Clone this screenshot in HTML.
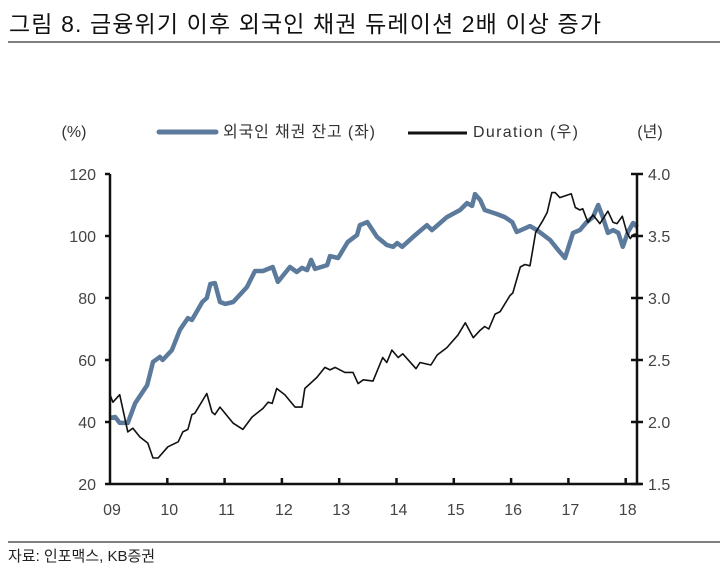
<!DOCTYPE html>
<html><head><meta charset="utf-8">
<style>
body{margin:0;background:#fff;width:720px;height:572px;overflow:hidden;font-family:"Liberation Sans","Noto Sans CJK KR",sans-serif;}
svg text{font-family:"Liberation Sans","Noto Sans CJK KR",sans-serif;}
</style></head>
<body>
<svg id="chart" width="720" height="572">
<text x="9" y="32" font-size="23" fill="#111" font-family="Noto Sans CJK KR, sans-serif" textLength="592">그림 8. 금융위기 이후 외국인 채권 듀레이션 2배 이상 증가</text>
<line x1="8" y1="42" x2="720" y2="42" stroke="#555" stroke-width="1.5"/>
<text x="74" y="137" font-size="16" fill="#333" text-anchor="middle">(%)</text>
<text x="650" y="137" font-size="16" fill="#333" text-anchor="middle">(년)</text>
<g>
<line x1="159" y1="132" x2="216" y2="132" stroke="#5b7a9c" stroke-width="5" stroke-linecap="round"/>
<text x="223" y="137" font-size="16" fill="#333" textLength="152">외국인 채권 잔고 (좌)</text>
</g>
<g>
<line x1="408" y1="133" x2="467" y2="133" stroke="#111" stroke-width="3"/>
<text x="473" y="137" font-size="16" fill="#333" textLength="105">Duration (우)</text>
</g>
<g id="plot"></g>
<line x1="8" y1="542" x2="720" y2="542" stroke="#555" stroke-width="1.5"/>
<text x="8" y="561" font-size="15" fill="#222">자료: 인포맥스, KB증권</text>
</svg>
<script>
const leftTicks=[20,40,60,80,100,120];
const rightTicks=["1.5","2.0","2.5","3.0","3.5","4.0"];
const yearLabels=["09","10","11","12","13","14","15","16","17","18"];
const balT=[0,0.09,0.17,0.31,0.44,0.65,0.75,0.87,0.92,1.08,1.22,1.36,1.43,1.61,1.69,1.75,1.83,1.92,2.01,2.15,2.39,2.53,2.67,2.84,2.93,3.14,3.26,3.35,3.44,3.51,3.58,3.79,3.84,3.98,4.15,4.31,4.36,4.49,4.66,4.83,4.94,5.01,5.10,5.29,5.53,5.62,5.88,6.11,6.23,6.32,6.37,6.46,6.54,6.75,6.89,7.02,7.10,7.33,7.45,7.68,7.82,7.94,8.08,8.20,8.32,8.43,8.52,8.60,8.69,8.78,8.87,8.95,9.04,9.13,9.20];
const balV=[41.3,41.6,39.7,39.7,46.1,51.9,59.4,61.0,60.0,63.2,69.7,73.5,72.9,78.7,80.0,84.5,84.8,78.7,78.1,78.7,83.5,88.7,88.7,90.0,85.2,90.0,88.4,89.7,89.0,92.3,89.4,90.6,93.5,92.9,98.1,100.3,103.5,104.5,99.7,97.1,96.5,97.7,96.5,99.7,103.5,101.9,106.1,108.4,110.6,109.7,113.5,111.6,108.4,107.1,106.1,104.5,101.3,103.2,101.9,98.7,95.5,92.9,101.0,101.9,104.5,106.1,110.0,106.1,101.0,101.9,101.0,96.5,101.3,104.2,102.9];
const durT=[0,0.05,0.17,0.31,0.40,0.52,0.66,0.75,0.84,1.01,1.19,1.27,1.36,1.43,1.48,1.69,1.78,1.83,1.92,2.15,2.32,2.48,2.67,2.76,2.83,2.91,3.05,3.23,3.35,3.40,3.61,3.75,3.84,3.93,4.10,4.24,4.33,4.42,4.59,4.76,4.83,4.92,5.03,5.11,5.34,5.41,5.60,5.71,5.88,6.07,6.20,6.34,6.46,6.54,6.61,6.72,6.81,6.98,7.03,7.16,7.24,7.33,7.43,7.56,7.63,7.71,7.77,7.85,8.05,8.12,8.20,8.25,8.34,8.43,8.55,8.69,8.78,8.85,8.94,9.02,9.08,9.13,9.20];
const durV=[2.22,2.16,2.22,1.92,1.95,1.88,1.83,1.71,1.71,1.80,1.84,1.92,1.94,2.06,2.07,2.23,2.08,2.06,2.12,1.99,1.94,2.04,2.11,2.16,2.15,2.27,2.22,2.12,2.12,2.27,2.36,2.44,2.42,2.44,2.40,2.40,2.31,2.34,2.33,2.52,2.48,2.58,2.52,2.55,2.43,2.48,2.46,2.54,2.60,2.70,2.80,2.68,2.74,2.77,2.75,2.87,2.89,3.02,3.04,3.25,3.27,3.26,3.53,3.63,3.69,3.85,3.85,3.81,3.84,3.73,3.71,3.72,3.61,3.67,3.60,3.70,3.61,3.60,3.66,3.53,3.48,3.51,3.52];

const NS="http://www.w3.org/2000/svg";
const X0=110,X1=637,Y0=484,Y1=174,YEARPX=57.3;
const xS=t=>X0+t*YEARPX;
const yL=v=>Y0-(v-20)/100*(Y0-Y1);
const yR=v=>Y0-(v-1.5)/2.5*(Y0-Y1);
const plot=document.getElementById('plot');
function mk(tag,attrs,parent){const e=document.createElementNS(NS,tag);for(const k in attrs)e.setAttribute(k,attrs[k]);(parent||plot).appendChild(e);return e;}

// series
let d1=balT.map((t,i)=>(i?'L':'M')+xS(t).toFixed(1)+','+yL(balV[i]).toFixed(1)).join('');
const p1=mk('path',{d:d1,fill:'none',stroke:'#5b7a9c','stroke-width':4.5,'stroke-linejoin':'round'});


let d2=durT.map((t,i)=>(i?'L':'M')+xS(t).toFixed(1)+','+yR(durV[i]).toFixed(1)).join('');
const p2=mk('path',{d:d2,fill:'none',stroke:'#111','stroke-width':1.6,'stroke-linejoin':'round'});



// axes
const ax=mk('g',{stroke:'#111','stroke-width':2.5});


mk('line',{x1:X0,y1:Y1,x2:X0,y2:Y0},ax);
mk('line',{x1:X1,y1:Y1,x2:X1,y2:Y0},ax);
mk('line',{x1:X0,y1:Y0,x2:X1+4,y2:Y0},ax);
leftTicks.forEach(v=>{
  const y=yL(v);
  mk('line',{x1:X0-5,y1:y,x2:X0,y2:y},ax);
  const t=mk('text',{x:96,y:y+6,'font-size':16,fill:'#444','text-anchor':'end'});
  t.textContent=v;
  
  
});
rightTicks.forEach(v=>{
  const y=yR(parseFloat(v));
  mk('line',{x1:X1-6,y1:y,x2:X1+6,y2:y},ax);
  const t=mk('text',{x:648,y:y+6,'font-size':16,fill:'#444'});
  t.textContent=v;
  
  
});
yearLabels.forEach((lab,i)=>{
  const x=xS(i);
  if(i>0) mk('line',{x1:x,y1:Y0-6,x2:x,y2:Y0},ax);
  const t=mk('text',{x:x+2,y:515,'font-size':16,fill:'#444','text-anchor':'middle'});
  t.textContent=lab;
  
  
});
</script>
</body></html>
